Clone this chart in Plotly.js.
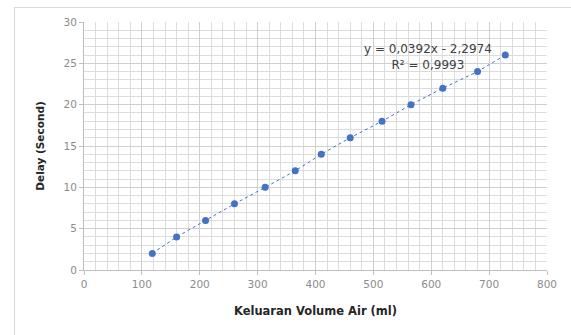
<!DOCTYPE html>
<html><head><meta charset="utf-8">
<script src="https://cdn.plot.ly/plotly-3.0.1.min.js"></script>
<style>
html,body{margin:0;padding:0;background:#fff;overflow:hidden;}
#frame{position:absolute;left:14px;top:7px;width:600px;height:400px;border-left:1px solid #d9d9d9;border-top:1px solid #d9d9d9;}
#chart{position:absolute;left:0;top:0;width:571px;height:335px;}
</style></head>
<body>
<div id="frame"></div>
<div id="chart"></div>
<script>
const volume = [118, 160, 210, 260, 313, 365, 410, 460, 515, 565, 620, 680, 728];
const delay = [2, 4, 6, 8, 10, 12, 14, 16, 18, 20, 22, 24, 26];
const equationText = "y = 0,0392x - 2,2974<br>R² = 0,9993";
const xTitle = "Keluaran Volume Air (ml)";
const yTitle = "Delay (Second)";

const tickFont = {family: "DejaVu Sans, sans-serif", size: 10.5, color: "#8c8c8c"};
const xTitleFont = {family: "DejaVu Sans, sans-serif", size: 11.5, color: "#262626"};
const yTitleFont = {family: "DejaVu Sans, sans-serif", size: 10.5, color: "#262626"};

Plotly.newPlot("chart", [{
  x: volume, y: delay, type: "scatter", mode: "lines+markers",
  line: {color: "#4472C4", width: 1, dash: "dot"},
  marker: {color: "#4472C4", size: 7},
  showlegend: false, hoverinfo: "none"
}], {
  width: 571, height: 335,
  margin: {l: 84, r: 24, t: 22, b: 65},
  paper_bgcolor: "rgba(0,0,0,0)", plot_bgcolor: "#fff",
  xaxis: {
    range: [0, 800], dtick: 100, tick0: 0,
    showgrid: true, gridcolor: "#d0d0d0", gridwidth: 1,
    minor: {dtick: 20, showgrid: true, gridcolor: "#dcdcdc", gridwidth: 1},
    showline: true, linecolor: "#bfbfbf", linewidth: 1,
    ticks: "outside", ticklen: 4, tickcolor: "#bfbfbf",
    zeroline: false, tickfont: tickFont,
    title: {text: "<b>" + xTitle + "</b>", font: xTitleFont, standoff: 18}
  },
  yaxis: {
    range: [0, 30], dtick: 5, tick0: 0,
    showgrid: true, gridcolor: "#d0d0d0", gridwidth: 1,
    minor: {dtick: 1, showgrid: true, gridcolor: "#dcdcdc", gridwidth: 1},
    showline: true, linecolor: "#bfbfbf", linewidth: 1,
    ticks: "outside", ticklen: 4, tickcolor: "#bfbfbf",
    zeroline: false, tickfont: tickFont,
    title: {text: "<b>" + yTitle + "</b>", font: yTitleFont, standoff: 16}
  },
  annotations: [{
    xref: "x", yref: "y", x: 594, y: 25.8, text: equationText,
    showarrow: false, align: "center", xanchor: "center", yanchor: "middle",
    font: {family: "DejaVu Sans, sans-serif", size: 12, color: "#404040"}
  }]
}, {staticPlot: true});
</script>
</body></html>
